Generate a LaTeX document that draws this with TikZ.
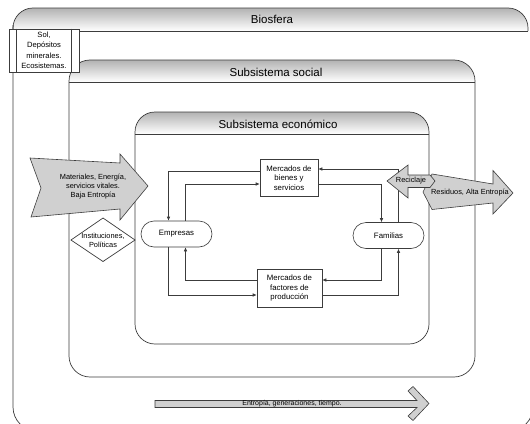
\documentclass[tikz,border=0pt]{standalone}
\usepackage{fontspec}
\setmainfont{Liberation Sans}
\usetikzlibrary{arrows.meta}

\definecolor{linegray}{RGB}{60,60,60}
\definecolor{arrowgray}{RGB}{208,208,208}

\tikzset{
    frame/.style={draw=linegray, line width=0.7pt},
    header/.style={top color=gray!60, bottom color=white},
    title/.style={font=\fontsize{11.5}{13}\selectfont, inner sep=0pt},
    box/.style={draw=linegray, fill=white, line width=0.6pt, align=center, inner sep=1pt,
        font=\fontsize{7.8}{9.6}\selectfont},
    small/.style={font=\fontsize{7.4}{9}\selectfont, align=center, inner sep=0pt},
    flow/.style={draw=linegray, line width=0.6pt, -{Latex[length=4pt,width=3.6pt]}},
    bigarrow/.style={draw=linegray, fill=arrowgray, line width=0.6pt}
}

\begin{document}
\begin{tikzpicture}[x=1pt, y=-1pt]

    \useasboundingbox (0,0) rectangle (530,423);

    % Biosfera
    \begin{scope}
        \clip[rounded corners=20pt] (13,8) rectangle (528,60);
        \shade[header] (13,8) rectangle (528,31);
    \end{scope}
    \draw[frame, rounded corners=20pt] (13,31) -- (13,8) -- (528,8) -- (528,31);
    \draw[frame] (13,31) -- (528,31);
    \draw[frame, rounded corners=24pt] (13,25) -- (13,431) -- (533,431) -- (533,40);
    \node[title] (biosfera) at (272,19.5) {Biosfera};

    % Subsistema social
    \begin{scope}
        \clip[rounded corners=21pt] (69,60) rectangle (475,377);
        \shade[header] (69,60) rectangle (475,82);
    \end{scope}
    \draw[frame, rounded corners=21pt] (69,60) rectangle (475,377);
    \draw[frame] (69,82) -- (475,82);
    \node[title] (social) at (276,72) {Subsistema social};

    % Subsistema economico
    \begin{scope}
        \clip[rounded corners=20pt] (135,112) rectangle (429,344);
        \shade[header] (135,112) rectangle (429,134);
    \end{scope}
    \draw[frame, rounded corners=20pt] (135,112) rectangle (429,344);
    \draw[frame] (135,134) -- (429,134);
    \node[title] (economico) at (278,124) {Subsistema económico};

    \node[box, minimum width=58pt, minimum height=37pt] (mbienes) at (289,178)
        {Mercados de\\bienes y\\servicios};
    \node[box, minimum width=65pt, minimum height=38pt] (mfactores) at (289.5,288)
        {Mercados de\\factores de\\producción};
    \node[box, rounded corners=13pt, minimum width=71pt, minimum height=26pt] (empresas)
        at (176.5,234) {Empresas};
    \node[box, rounded corners=13pt, minimum width=71pt, minimum height=26pt] (familias)
        at (388.5,235.5) {Familias};

    \draw[flow] ([yshift=7pt]mbienes.west) -| ([xshift=-8pt]empresas.north);
    \draw[flow] ([xshift=9pt]empresas.north) |- ([yshift=-6pt]mbienes.west);
    \draw[flow] ([yshift=-6pt]mbienes.east) -| ([xshift=-7pt]familias.north);
    \draw[flow] ([xshift=10pt]familias.north) |- ([yshift=9pt]mbienes.east);
    \draw[flow] ([xshift=-7pt]familias.south) |- ([yshift=8pt]mfactores.east);
    \draw[flow] ([yshift=-7pt]mfactores.east) -| ([xshift=10pt]familias.south);
    \draw[flow] ([yshift=8pt]mfactores.west) -| ([xshift=9pt]empresas.south);
    \draw[flow] ([xshift=-8pt]empresas.south) |- ([yshift=-7pt]mfactores.west);

    % flechas de entrada y salida
    \filldraw[bigarrow] (30,158) -- (120,163) -- (120,154) -- (148,186) -- (120,220)
        -- (120,209) -- (31,217) -- (41,188) -- cycle;
    \node[small] (materiales) at (93,187) {Materiales, Energía,\\servicios vitales.\\Baja Entropía};

    \filldraw[bigarrow] (432,174) -- (493,184) -- (493,170.5) -- (513,193) -- (493,214)
        -- (493,203) -- (432,209.5) -- (423,192) -- cycle;
    \node[small] (residuos) at (470,193) {Residuos, Alta Entropía};

    \filldraw[bigarrow] (387,181) -- (408,165) -- (408,175) -- (430,175) -- (435,181)
        -- (430,187.5) -- (408,187.5) -- (408,198) -- cycle;
    \node[small] (reciclaje) at (411,181) {Reciclaje};

    \filldraw[bigarrow] (155,400.5) -- (417,400.5) -- (408,391) -- (413,386.5) -- (429,403.5)
        -- (413,420.5) -- (408,416) -- (417,407.5) -- (155,407.5) -- cycle;
    \node[small, font=\fontsize{7}{8}\selectfont] (entropia) at (292,404) {Entropía, generaciones, tiempo.};

    \filldraw[frame, fill=white] (71,240) -- (103,218) -- (135,240) -- (103,261.5) -- cycle;
    \node[small] (instituciones) at (103,240) {Instituciones,\\Políticas};

    \node[box, minimum width=70pt, minimum height=43pt, font=\fontsize{7.6}{10.5}\selectfont]
        (sol) at (44,50.5) {Sol,\\Depósitos\\minerales.\\Ecosistemas.};
    \draw[frame] ([xshift=8pt]sol.north west) -- ([xshift=8pt]sol.south west);
    \draw[frame] ([xshift=-8pt]sol.north east) -- ([xshift=-8pt]sol.south east);

\end{tikzpicture}
\end{document}
